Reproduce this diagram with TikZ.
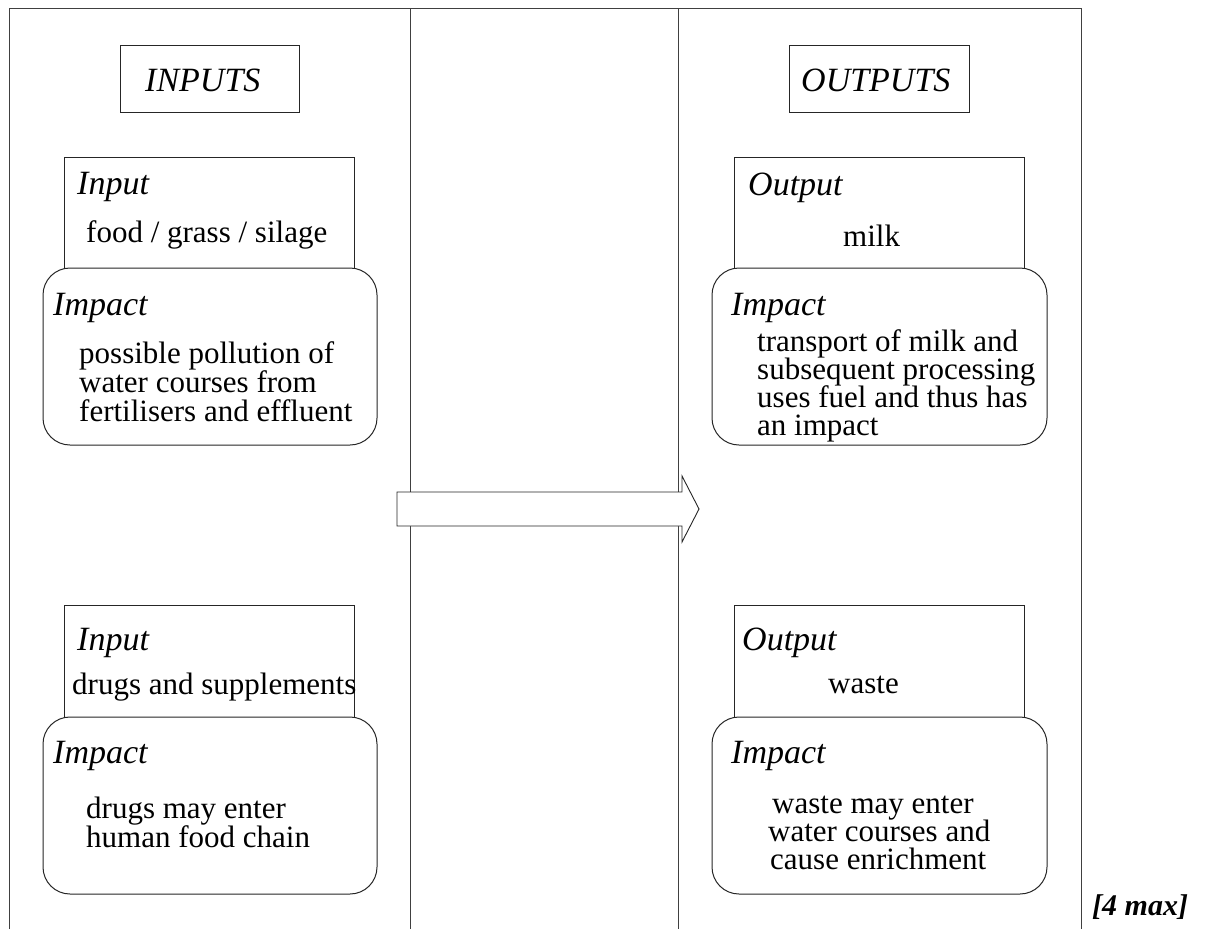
\documentclass[tikz,border=0pt]{standalone}
\usepackage{fontspec}
\setmainfont{Liberation Serif}
\begin{document}
\begin{tikzpicture}[x=1pt,y=-1pt,
  frame/.style={draw=black!75,line width=1pt},
  boxline/.style={draw=black!85,line width=1pt,fill=white},
  impactbox/.style={boxline,rounded corners=27pt},
  txt/.style={inner sep=0pt,anchor=base west,font=\fontsize{31}{31}\selectfont},
  ital/.style={txt,font=\fontsize{34}{34}\selectfont\itshape},
  head/.style={txt,font=\fontsize{34}{34}\selectfont\itshape},
  marks/.style={txt,font=\fontsize{30}{30}\selectfont\bfseries\itshape}]
\useasboundingbox (0,0) rectangle (1207,929);

% column frame, open at the bottom
\coordinate (tl) at (9,8);
\coordinate (tr) at (1081,8);
\coordinate (bl) at (9,929);
\coordinate (br) at (1081,929);
\coordinate (c1t) at (410,8);
\coordinate (c1b) at (410,929);
\coordinate (c2t) at (678,8);
\coordinate (c2b) at (678,929);
\draw[frame] (bl) -- (tl) -- (tr) -- (br);
\draw[frame] (c1t) -- (c1b);
\draw[frame] (c2t) -- (c2b);

% column headings
\draw[boxline] (120,45) rectangle (299,112);
\node[head] (inputs) at (145,91) {INPUTS};
\draw[boxline] (789,45) rectangle (969,112);
\node[head] (outputs) at (801,91) {OUTPUTS};

% ---- first input and its impact
\draw[boxline] (64,157) rectangle (354,268);
\node[ital] (in1) at (77,194) {Input};
\node[txt] (in1t) at (86,242) {food / grass / silage};
\draw[impactbox] (43,268) rectangle (377,445);
\node[ital] (im1) at (53,315) {Impact};
\node[txt] (im1a) at (79,363) {possible pollution of};
\node[txt] (im1b) at (79,392) {water courses from};
\node[txt] (im1c) at (79,421) {fertilisers and effluent};

% ---- first output and its impact
\draw[boxline] (734,157) rectangle (1024,268);
\node[ital] (out1) at (748,195) {Output};
\node[txt] (out1t) at (843,246) {milk};
\draw[impactbox] (712,268) rectangle (1047,445);
\node[ital] (im2) at (731,315) {Impact};
\node[txt] (im2a) at (757,351) {transport of milk and};
\node[txt] (im2b) at (757,379) {subsequent processing};
\node[txt] (im2c) at (757,407) {uses fuel and thus has};
\node[txt] (im2d) at (757,435) {an impact};

% ---- second input and its impact
\draw[boxline] (64,605) rectangle (354,717);
\node[ital] (in2) at (77,650) {Input};
\node[txt] (in2t) at (72,694) {drugs and supplements};
\draw[impactbox] (43,717) rectangle (377,894);
\node[ital] (im3) at (53,763) {Impact};
\node[txt] (im3a) at (86,818) {drugs may enter};
\node[txt] (im3b) at (86,847) {human food chain};

% ---- second output and its impact
\draw[boxline] (734,605) rectangle (1024,717);
\node[ital] (out2) at (742,650) {Output};
\node[txt] (out2t) at (828,693) {waste};
\draw[impactbox] (712,717) rectangle (1047,894);
\node[ital] (im4) at (731,763) {Impact};
\node[txt] (im4a) at (772,813) {waste may enter};
\node[txt] (im4b) at (768,841) {water courses and};
\node[txt] (im4c) at (770,869) {cause enrichment};

% block arrow from inputs to outputs
\draw[boxline,line width=0.9pt] (397,492) -- (682,492) -- (682,476) -- (699,509)
  -- (682,542) -- (682,526) -- (397,526) -- cycle;

\node[marks] (mx) at (1092,915) {[4 max]};
\end{tikzpicture}
\end{document}
